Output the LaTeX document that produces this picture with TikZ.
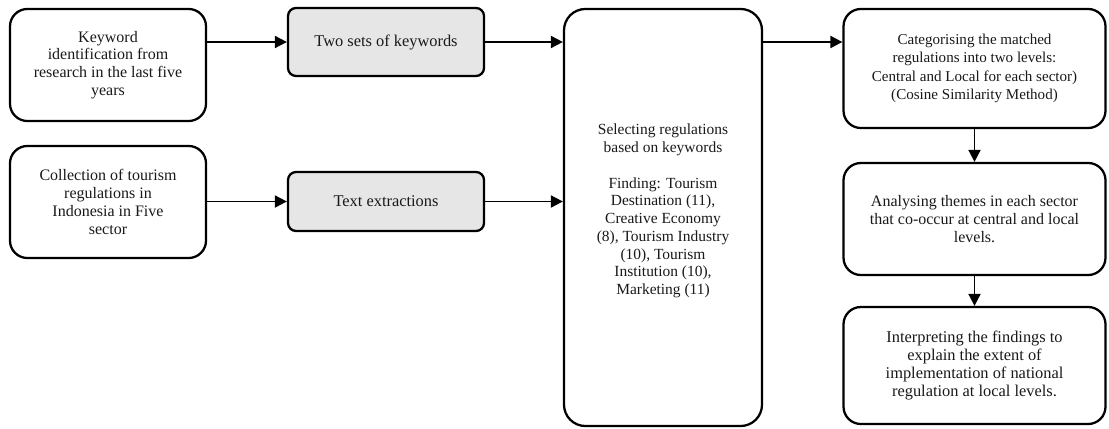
\documentclass[tikz,border=0pt]{standalone}
\usepackage{fontspec}
\setmainfont{Liberation Serif}
\usetikzlibrary{arrows.meta}
\definecolor{boxgray}{HTML}{E6E6E6}
\tikzset{
  base/.style={draw=black, line width=1.7pt, align=center, inner sep=1pt,
    font=\fontsize{12}{13.4}\selectfont, text=black!90},
  bigbox/.style={base, rounded corners=13pt},
  graybox/.style={base, rounded corners=6pt, fill=boxgray, font=\fontsize{12.3}{13.4}\selectfont},
  conn/.style={line width=1.4pt, -{Triangle[length=9pt,width=9pt]}}
}
\begin{document}
\begin{tikzpicture}[x=0.75pt,y=-0.75pt]
\useasboundingbox (0,0) rectangle (1109,428);
\node[bigbox, minimum width=196*0.75pt, minimum height=112*0.75pt] (A) at (108,65)
  {Keyword\\identification from\\research in the last five\\years};
\node[graybox, minimum width=196*0.75pt, minimum height=68*0.75pt] (B) at (386,42)
  {Two sets of keywords};
\node[bigbox, rounded corners=16pt, minimum width=198*0.75pt, minimum height=417*0.75pt] (C) at (663,217.5) {};
\node[font=\fontsize{11.6}{13.3}\selectfont, align=center, text=black!90, inner sep=0pt] (Ct) at (663,211)
  {Selecting regulations\\based on keywords\\[13.3pt]Finding: Tourism\\Destination (11),\\Creative Economy\\(8), Tourism Industry\\(10), Tourism\\Institution (10),\\Marketing (11)};
\node[bigbox, minimum width=196*0.75pt, minimum height=112*0.75pt] (D) at (108,202)
  {Collection of tourism\\regulations in\\Indonesia in Five\\sector};
\node[graybox, minimum width=196*0.75pt, minimum height=59*0.75pt] (E) at (386,201.5)
  {Text extractions};
\node[bigbox, font=\fontsize{11.3}{13.7}\selectfont, minimum width=262*0.75pt, minimum height=119*0.75pt] (F) at (974.5,68.5)
  {Categorising the matched\\regulations into two levels:\\Central and Local for each sector)\\(Cosine Similarity Method)};
\node[bigbox, minimum width=262*0.75pt, minimum height=112*0.75pt] (G) at (974.5,219)
  {Analysing themes in each sector\\that co-occur at central and local\\levels.};
\node[bigbox, font=\fontsize{12.3}{13.7}\selectfont, minimum width=262*0.75pt, minimum height=117*0.75pt] (H) at (974.5,365.5)
  {Interpreting the findings to\\explain the extent of\\implementation of national\\regulation at local levels.};
\draw[conn] (B.west -| A.east) -- (B.west);
\draw[conn] (B.east) -- (B.east -| C.west);
\draw[conn] (E.west -| D.east) -- (E.west);
\draw[conn] (E.east) -- (E.east -| C.west);
\draw[conn] (B.east -| C.east) -- (B.east -| F.west);
\draw[conn] (F.south) -- (G.north);
\draw[conn] (G.south) -- (H.north);
\end{tikzpicture}
\end{document}
